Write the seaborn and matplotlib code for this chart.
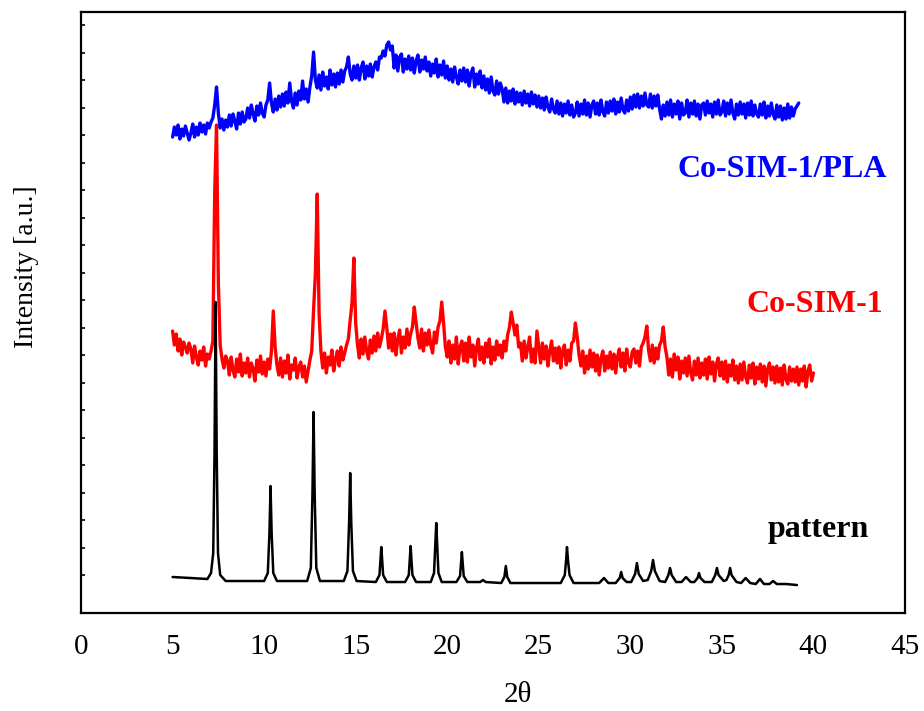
import numpy as np
import pandas as pd
import matplotlib
matplotlib.use("Agg")
import matplotlib.pyplot as plt
import seaborn as sns

# XRD traces, intensity in arbitrary units (offset stacked as in the figure)
# Co-SIM-1/PLA, sampled every 0.1 deg from 5.0 deg
pla_start = 5.0
pla_y = [
    476, 486, 478, 488, 474, 484, 477, 487, 480, 473,   # 5
    480, 489, 476, 486, 478, 490, 481, 488, 479, 490,   # 6
    485, 491, 495, 508, 526, 500, 485, 494, 483, 493,   # 7
    486, 498, 487, 499, 492, 484, 500, 489, 501, 491,   # 8
    494, 505, 495, 508, 499, 492, 507, 498, 510, 500,   # 9
    496, 508, 513, 530, 510, 501, 514, 503, 517, 506,   # 10
    519, 507, 521, 510, 530, 512, 505, 520, 508, 522,   # 11
    513, 532, 514, 524, 511, 526, 537, 561, 533, 525,   # 12
    538, 523, 541, 527, 536, 524, 543, 528, 539, 526,   # 13
    540, 529, 543, 531, 542, 546, 556, 539, 533, 547,   # 14
    535, 548, 533, 545, 551, 534, 547, 537, 549, 536,   # 15
    546, 551, 543, 556, 555, 562, 557, 568, 571, 563,   # 16
    567, 545, 558, 542, 556, 559, 541, 554, 544, 557,   # 17
    543, 555, 540, 552, 558, 541, 553, 544, 556, 542,   # 18
    551, 537, 549, 540, 554, 536, 548, 538, 552, 535,   # 19
    547, 533, 544, 531, 546, 536, 529, 543, 532, 545,   # 20
    531, 543, 527, 540, 545, 526, 539, 529, 542, 525,   # 21
    537, 523, 534, 520, 536, 522, 518, 532, 519, 530,   # 22
    524, 511, 525, 510, 522, 512, 524, 509, 521, 511,   # 23
    520, 508, 522, 510, 519, 507, 521, 509, 518, 506,   # 24
    517, 505, 515, 503, 516, 506, 501, 514, 504, 500,   # 25
    512, 499, 510, 497, 509, 500, 512, 498, 508, 496,   # 26
    500, 511, 497, 509, 499, 513, 498, 510, 496, 508,   # 27
    512, 499, 510, 498, 513, 501, 497, 511, 500, 512,   # 28
    502, 514, 499, 511, 501, 515, 503, 500, 513, 502,   # 29
    516, 504, 518, 506, 519, 505, 517, 507, 520, 508,   # 30
    506, 519, 505, 517, 507, 518, 504, 494, 508, 497,   # 31
    511, 498, 513, 496, 509, 499, 512, 494, 510, 498,   # 32
    500, 513, 496, 510, 499, 512, 497, 509, 494, 508,   # 33
    510, 498, 512, 500, 509, 496, 511, 499, 513, 498,   # 34
    501, 512, 497, 510, 499, 513, 500, 494, 509, 498,   # 35
    511, 499, 509, 495, 510, 498, 512, 497, 508, 499,   # 36
    496, 509, 498, 511, 495, 507, 497, 510, 499, 494,   # 37
    508, 496, 507, 493, 505, 494, 509, 495, 506, 497,   # 38
    504, 507, 510,                                      # 39
]

# Co-SIM-1, sampled every 0.1 deg from 5.0 deg
cosim_start = 5.0
cosim_y = [
    282, 268, 279, 262, 274, 258, 271, 266, 260, 270,   # 5
    264, 250, 267, 256, 248, 262, 253, 266, 247, 259,   # 6
    254, 262, 272, 420, 488, 330, 268, 254, 245, 257,   # 7
    252, 238, 256, 243, 236, 254, 241, 259, 237, 250,   # 8
    240, 255, 236, 250, 244, 232, 253, 241, 257, 239,   # 9
    251, 237, 254, 244, 262, 302, 266, 248, 238, 255,   # 10
    236, 252, 240, 258, 234, 248, 243, 255, 235, 246,   # 11
    251, 236, 247, 231, 242, 253, 262, 303, 340, 419,   # 12
    300, 262, 245, 260, 240, 256, 248, 263, 242, 254,   # 13
    262, 247, 266, 253, 260, 268, 274, 293, 310, 355,   # 14
    290, 268, 255, 274, 259, 276, 262, 254, 273, 260,   # 15
    277, 262, 280, 266, 274, 284, 302, 285, 265, 279,   # 16
    262, 280, 258, 274, 283, 260, 276, 265, 284, 268,   # 17
    279, 286, 306, 290, 275, 265, 284, 262, 280, 268,   # 18
    283, 268, 260, 281, 270, 286, 292, 311, 290, 266,   # 19
    256, 272, 250, 268, 254, 276, 249, 266, 272, 252,   # 20
    270, 251, 276, 256, 268, 247, 265, 274, 253, 266,   # 21
    250, 270, 256, 274, 249, 266, 253, 272, 258, 268,   # 22
    255, 272, 262, 278, 286, 301, 290, 278, 288, 266,   # 23
    270, 252, 272, 255, 266, 276, 251, 264, 250, 282,   # 24
    266, 250, 270, 254, 267, 247, 262, 272, 252, 265,   # 25
    250, 266, 245, 262, 268, 248, 263, 252, 270, 272,   # 26
    290, 276, 258, 247, 262, 240, 257, 244, 263, 246,   # 27
    260, 242, 258, 238, 255, 262, 242, 257, 245, 261,   # 28
    244, 259, 240, 256, 264, 246, 260, 242, 264, 250,   # 29
    246, 261, 264, 250, 262, 247, 266, 270, 276, 287,   # 30
    262, 252, 268, 250, 265, 254, 268, 272, 286, 266,   # 31
    256, 238, 254, 236, 259, 243, 256, 234, 252, 240,   # 32
    255, 237, 257, 240, 233, 252, 238, 255, 235, 250,   # 33
    238, 254, 234, 256, 239, 251, 232, 249, 255, 237,   # 34
    251, 234, 252, 231, 248, 237, 253, 233, 247, 230,   # 35
    249, 233, 251, 236, 230, 248, 235, 250, 229, 246,   # 36
    234, 249, 231, 247, 227, 244, 250, 233, 246, 230,   # 37
    247, 231, 245, 228, 248, 234, 229, 246, 232, 244,   # 38
    231, 246, 228, 244, 232, 247, 226, 242, 248, 232,   # 39
    240,                                                # 40
]

# simulated pattern, read point by point
pattern_x = [
    5.0, 6.0, 6.9, 7.1, 7.22, 7.29, 7.35, 7.41, 7.48, 7.6, 7.9,
    10.0, 10.2, 10.29, 10.35, 10.41, 10.5, 10.7,
    12.35, 12.55, 12.64, 12.7, 12.76, 12.85, 13.05,
    14.35, 14.55, 14.64, 14.7, 14.76, 14.85, 15.05,
    16.1, 16.3, 16.35, 16.4, 16.45, 16.5, 16.7,
    17.7, 17.9, 17.95, 18.0, 18.05, 18.1, 18.3,
    19.1, 19.28, 19.34, 19.4, 19.46, 19.52, 19.7,
    20.5, 20.7, 20.75, 20.8, 20.85, 20.9, 21.1,
    21.8, 21.95, 22.1,
    22.95, 23.12, 23.2, 23.28, 23.45,
    26.2, 26.42, 26.49, 26.54, 26.6, 26.68, 26.9,
    28.3, 28.56, 28.8,
    29.2, 29.42, 29.5, 29.58, 29.8,
    30.05, 30.26, 30.36, 30.46, 30.7,
    30.95, 31.14, 31.24, 31.34, 31.6,
    31.9, 32.08, 32.17, 32.26, 32.5,
    32.8, 33.04, 33.3,
    33.5, 33.67, 33.75, 33.83, 34.05,
    34.45, 34.64, 34.73, 34.82, 35.1,
    35.25, 35.37, 35.45, 35.53, 35.8,
    36.05, 36.3, 36.55,
    36.85, 37.08, 37.3,
    37.6, 37.8, 38.0,
    38.5, 39.1,
]
pattern_y = [
    36, 35, 34, 40, 60, 160, 311, 160, 60, 38, 32,
    32, 40, 80, 127, 80, 40, 32,
    32, 45, 120, 201, 120, 45, 32,
    32, 42, 90, 140, 90, 42, 32,
    31, 38, 52, 66, 52, 38, 31,
    31, 38, 52, 67, 52, 38, 31,
    31, 40, 65, 90, 65, 40, 31,
    31, 37, 49, 61, 49, 37, 31,
    31, 33, 31,
    30, 36, 47, 36, 30,
    30, 38, 52, 66, 52, 38, 30,
    30, 35, 30,
    30, 35, 41, 35, 31,
    31, 39, 50, 39, 32,
    33, 42, 53, 42, 32,
    31, 38, 45, 38, 31,
    31, 36, 31,
    31, 35, 40, 35, 31,
    31, 38, 45, 38, 32,
    33, 38, 45, 38, 31,
    30, 35, 30,
    29, 34, 29,
    29, 32, 29,
    29, 28,
]

series_names = ["Co-SIM-1/PLA", "Co-SIM-1", "pattern"]
series_colors = ["#0000ff", "#ff0000", "#000000"]

pla_x = np.round(pla_start + 0.1 * np.arange(len(pla_y)), 2)
cosim_x = np.round(cosim_start + 0.1 * np.arange(len(cosim_y)), 2)

df = pd.concat([
    pd.DataFrame({"two_theta": pla_x, "intensity": pla_y, "sample": series_names[0]}),
    pd.DataFrame({"two_theta": cosim_x, "intensity": cosim_y, "sample": series_names[1]}),
    pd.DataFrame({"two_theta": pattern_x, "intensity": pattern_y, "sample": series_names[2]}),
], ignore_index=True)

sns.set_style("white")
plt.rcParams["font.family"] = ["Liberation Serif", "DejaVu Serif"]
plt.rcParams["text.color"] = "black"
plt.rcParams["axes.labelcolor"] = "black"

fig = plt.figure(figsize=(9.24, 7.11), dpi=100)
ax = fig.add_axes([0.0877, 0.1378, 0.8917, 0.8453])

# draw order: red, black, blue on top
for name, lw, z in [("Co-SIM-1", 2.4, 2), ("pattern", 1.8, 3), ("Co-SIM-1/PLA", 2.4, 4)]:
    sub = df[df["sample"] == name]
    sns.lineplot(data=sub, x="two_theta", y="intensity", color=series_colors[series_names.index(name)],
                 estimator=None, sort=False, lw=lw, ax=ax, zorder=z, legend=False)

ax.set_xlim(0, 45)
ax.set_ylim(0, 601)
ax.set_xticks(np.arange(0, 46, 5))
ax.set_xticks(np.arange(2.5, 45, 5), minor=True)
ax.set_yticks(np.arange(38, 590, 27.5))
ax.set_yticklabels([])
ax.tick_params(axis="x", which="major", direction="out", length=9, width=1.5,
               labelsize=21, pad=6, top=False, colors="black")
ax.tick_params(axis="x", which="minor", direction="out", length=5.5, width=1.5, top=False, colors="black")
ax.tick_params(axis="y", which="major", direction="in", length=3, width=1.2, right=False, left=True,
               colors="black")
for sp in ax.spines.values():
    sp.set_linewidth(1.6)
    sp.set_color("black")

ax.set_xlabel("2θ", fontsize=21, color="black")
ax.xaxis.set_label_coords(0.53, -0.115)
ax.set_ylabel("Intensity [a.u.]", fontsize=20, color="black")
ax.yaxis.set_label_coords(-0.051, 0.577)

ax.text(32.55, 436, "Co-SIM-1/PLA", color="#0000ff", fontsize=23, fontweight="bold", ha="left", va="baseline")
ax.text(36.37, 301, "Co-SIM-1", color="#ff0000", fontsize=23, fontweight="bold", ha="left", va="baseline")
ax.text(37.52, 76, "pattern", color="#000000", fontsize=23, fontweight="bold", ha="left", va="baseline")

fig.savefig("out.png", dpi=100)
